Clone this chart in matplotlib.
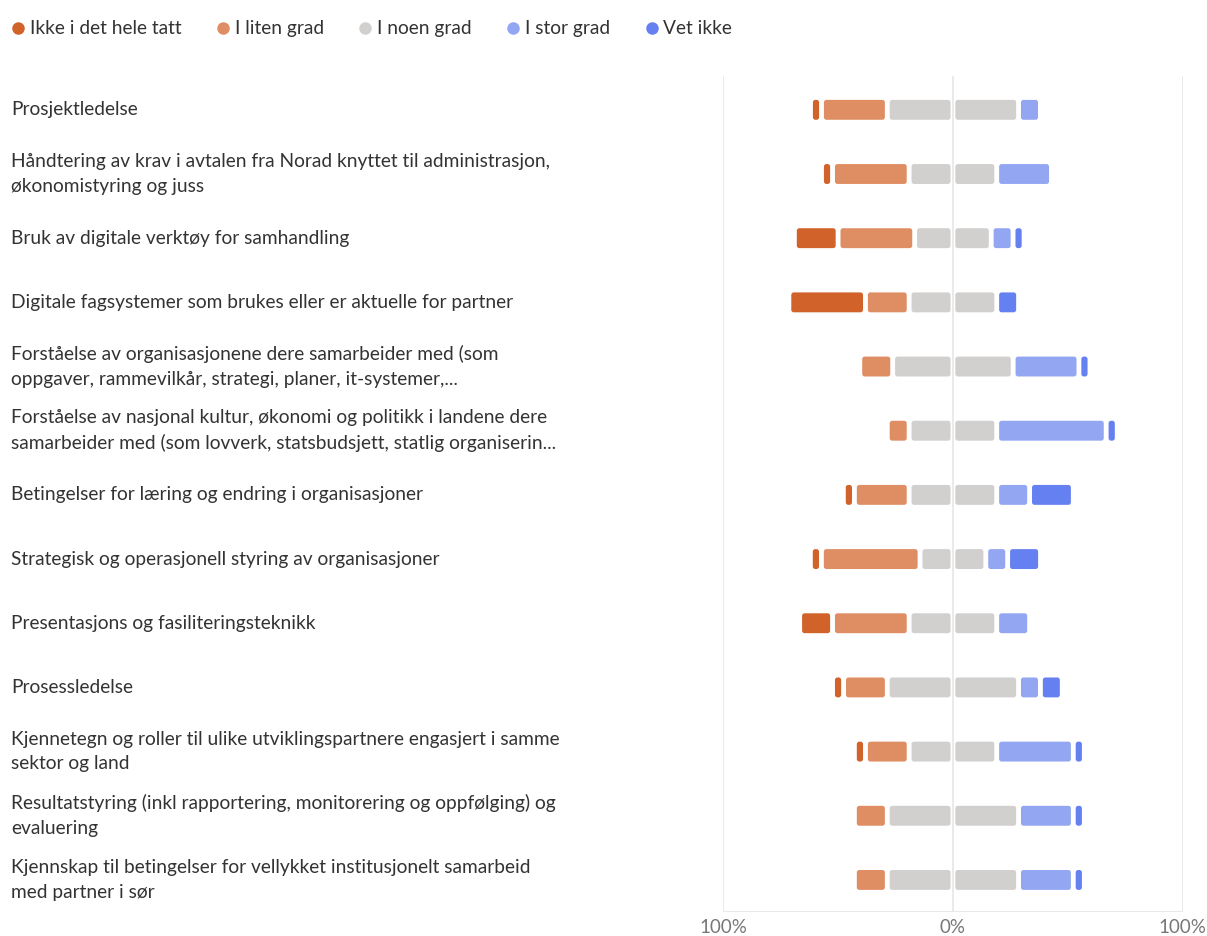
import matplotlib.pyplot as plt
from matplotlib.patches import FancyBboxPatch
from matplotlib.lines import Line2D
from matplotlib.transforms import blended_transform_factory

plt.rcParams['font.family'] = ['Lato', 'DejaVu Sans']

# Data (share of respondents, %)
questions = [
    "Prosjektledelse",
    "Håndtering av krav i avtalen fra Norad knyttet til administrasjon,\nøkonomistyring og juss",
    "Bruk av digitale verktøy for samhandling",
    "Digitale fagsystemer som brukes eller er aktuelle for partner",
    "Forståelse av organisasjonene dere samarbeider med (som\noppgaver, rammevilkår, strategi, planer, it-systemer,...",
    "Forståelse av nasjonal kultur, økonomi og politikk i landene dere\nsamarbeider med (som lovverk, statsbudsjett, statlig organiserin...",
    "Betingelser for læring og endring i organisasjoner",
    "Strategisk og operasjonell styring av organisasjoner",
    "Presentasjons og fasiliteringsteknikk",
    "Prosessledelse",
    "Kjennetegn og roller til ulike utviklingspartnere engasjert i samme\nsektor og land",
    "Resultatstyring (inkl rapportering, monitorering og oppfølging) og\nevaluering",
    "Kjennskap til betingelser for vellykket institusjonelt samarbeid\nmed partner i sør",
]
ikke_i_det_hele = [4.8, 4.8, 19.0, 33.3, 0.0, 0.0, 4.8, 4.8, 14.3, 4.8, 4.8, 0.0, 0.0]
i_liten_grad = [28.6, 33.3, 33.3, 19.0, 14.3, 9.5, 23.8, 42.9, 33.3, 19.0, 19.0, 14.3, 14.3]
i_noen_grad = [57.1, 38.1, 33.3, 38.1, 52.4, 38.1, 38.1, 28.6, 38.1, 57.1, 38.1, 57.1, 57.1]
i_stor_grad = [9.5, 23.8, 9.5, 0.0, 28.6, 47.6, 14.3, 9.5, 14.3, 9.5, 33.3, 23.8, 23.8]
vet_ikke = [0.0, 0.0, 4.8, 9.5, 4.8, 4.8, 19.0, 14.3, 0.0, 9.5, 4.8, 4.8, 4.8]

series_names = ["Ikke i det hele tatt", "I liten grad", "I noen grad", "I stor grad", "Vet ikke"]
colors = ["#D0622A", "#DF8D63", "#D1D0CE", "#93A6F2", "#6580F0"]

fig = plt.figure(figsize=(12.07, 9.36), dpi=100)
ax = fig.add_axes([0.599, 0.0256, 0.381, 0.8934])

gap = 2.1        # white gap between segments, in % units
bar_h = 0.31
rnd = 1.1
aspect = (64.4 / 2.3)  # px per y unit / px per x unit


def seg(left, width, y, color):
    if width <= 0:
        return
    p = FancyBboxPatch((left + gap / 2, y - bar_h / 2), width - gap, bar_h,
                       boxstyle=f"round,pad=0,rounding_size={rnd}",
                       mutation_aspect=1 / aspect,
                       facecolor=color, edgecolor='none', zorder=3)
    ax.add_patch(p)


for i in range(len(questions)):
    half = i_noen_grad[i] / 2
    # negative side
    left = -half
    seg(left, half, i, colors[2])
    left -= i_liten_grad[i]
    seg(left, i_liten_grad[i], i, colors[1])
    left -= ikke_i_det_hele[i]
    seg(left, ikke_i_det_hele[i], i, colors[0])
    # positive side
    seg(0, half, i, colors[2])
    right = half
    seg(right, i_stor_grad[i], i, colors[3])
    right += i_stor_grad[i]
    seg(right, vet_ikke[i], i, colors[4])

ax.set_xlim(-100, 100)
ax.set_ylim(12.5, -0.53)

for x in (-100, 0, 100):
    ax.axvline(x, color='#E6E6E6', lw=1.2, zorder=1)
ax.axhline(12.5, color='#E6E6E6', lw=1.2, zorder=1)

for s in ax.spines.values():
    s.set_visible(False)
ax.set_yticks([])
ax.set_xticks([-100, 0, 100])
ax.set_xticklabels(["100%", "0%", "100%"], color='#777777', fontsize=13.5)
ax.tick_params(axis='x', length=0, pad=5)

# category labels on the left
trans = blended_transform_factory(fig.transFigure, ax.transData)
for i, q in enumerate(questions):
    ax.text(11 / 1207, i, q, transform=trans, ha='left', va='center',
            fontsize=13.8, color='#333333', linespacing=1.55)

handles = [Line2D([0], [0], marker='o', linestyle='none', markersize=9,
                  markerfacecolor=c, markeredgecolor='none') for c in colors]
fig.legend(handles, series_names, loc='upper left', bbox_to_anchor=(0.0037, 0.9863),
           ncol=5, frameon=False, fontsize=13.8, handletextpad=0.32,
           columnspacing=1.86, handlelength=0.6, borderaxespad=0,
           labelcolor='#333333')

fig.savefig("out.png", dpi=100)
